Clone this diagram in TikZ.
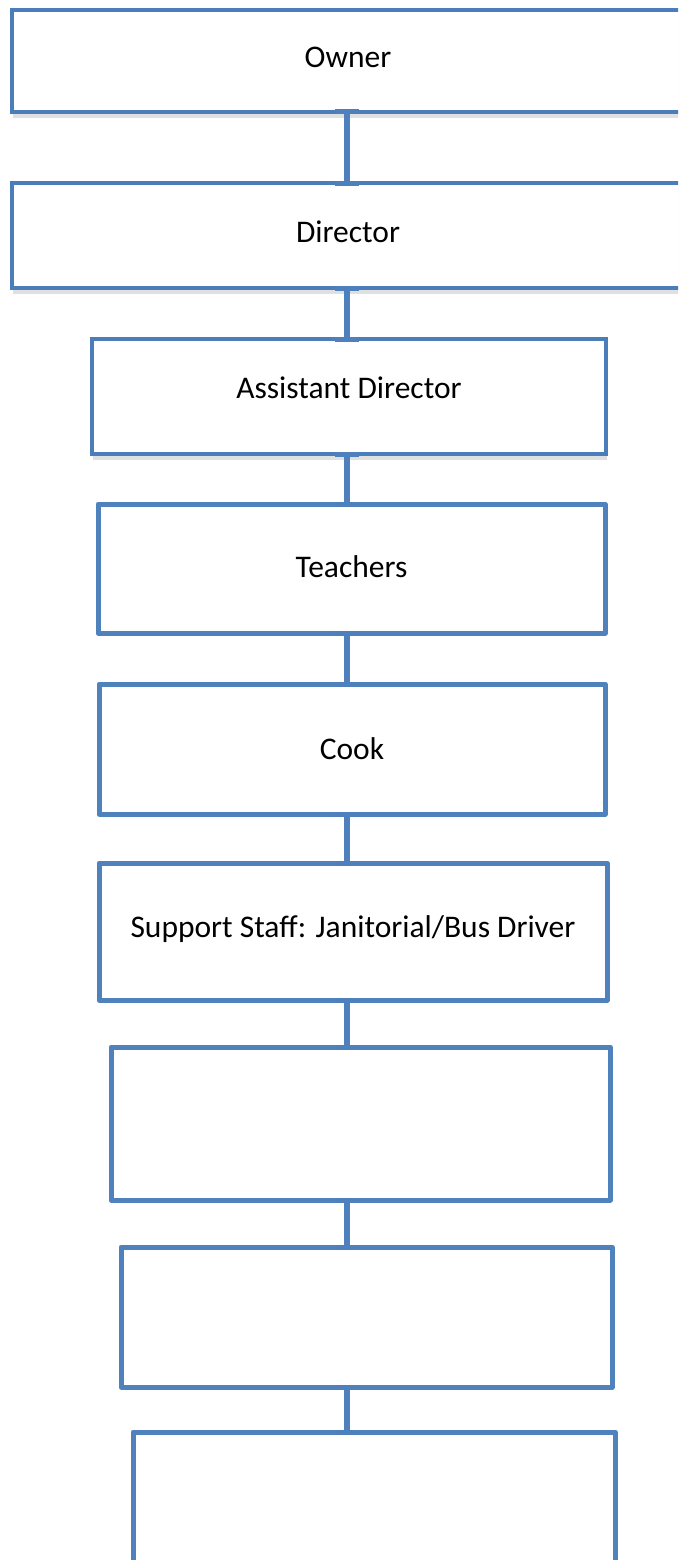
\documentclass[tikz,border=0pt]{standalone}
\usepackage{fontspec}
\setmainfont{Carlito}
\usetikzlibrary{shadows,arrows.meta}
\definecolor{boxblue}{HTML}{4F81BD}
\definecolor{topblue}{HTML}{4A7EBB}
\definecolor{connblue}{HTML}{4D80BC}
\begin{document}
\begin{tikzpicture}[x=1pt,y=-1pt,
  box/.style={rectangle, draw=boxblue, line width=5pt, line join=round, fill=white, inner sep=0pt, outer sep=0pt},
  topbox/.style={draw=topblue, line width=4.5pt, line join=miter,
    drop shadow={shadow xshift=1pt, shadow yshift=-6pt, opacity=0.2, fill=black!60}},
  lbl/.style={font=\fontsize{31.5}{38}\selectfont, text=black, inner sep=0pt, text height=20pt, text depth=0pt},
  conn/.style={draw=connblue, line width=5.5pt, shorten <=-2.5pt, shorten >=-2.5pt,
    {Rectangle[length=5pt,width=24pt]}-{Rectangle[length=5pt,width=24pt]}}]
\useasboundingbox (0,0) rectangle (678,1560);
\clip (0,0) rectangle (678,1560);
\fill[white] (0,0) rectangle (678,1560);
\coordinate (spine) at (347,0);

\node[box, topbox, minimum width=672, minimum height=102,
  label={[lbl, yshift=3pt]center:Owner}] (owner) at (348,61) {};
\node[box, topbox, minimum width=672, minimum height=105,
  label={[lbl, yshift=3.5pt]center:Director}] (director) at (348,235.5) {};
\node[box, topbox, minimum width=514, minimum height=115,
  label={[lbl, yshift=8.5pt]center:Assistant Director}] (assistant) at (349,396.5) {};
\node[box, minimum width=507, minimum height=129,
  label={[lbl, yshift=1pt]center:Teachers}] (teachers) at (351.5,568.5) {};
\node[box, minimum width=506, minimum height=130,
  label={[lbl]center:Cook}] (cook) at (352,749) {};
\node[box, minimum width=508, minimum height=137,
  label={[lbl, yshift=4pt]center:Support Staff: Janitorial/Bus Driver}] (support) at (353,931.5) {};
\node[box, minimum width=499, minimum height=153] (blankA) at (360.5,1123.5) {};
\node[box, minimum width=491, minimum height=140] (blankB) at (366.5,1317) {};
\node[box, minimum width=482, minimum height=168] (blankC) at (374,1516) {};

\draw[conn] (owner.south -| spine) -- (director.north -| spine);
\draw[conn] (director.south -| spine) -- (assistant.north -| spine);
\draw[conn] (assistant.south -| spine) -- (teachers.north -| spine);
\draw[conn] (teachers.south -| spine) -- (cook.north -| spine);
\draw[conn] (cook.south -| spine) -- (support.north -| spine);
\draw[conn] (support.south -| spine) -- (blankA.north -| spine);
\draw[conn] (blankA.south -| spine) -- (blankB.north -| spine);
\draw[conn] (blankB.south -| spine) -- (blankC.north -| spine);
\end{tikzpicture}
\end{document}
